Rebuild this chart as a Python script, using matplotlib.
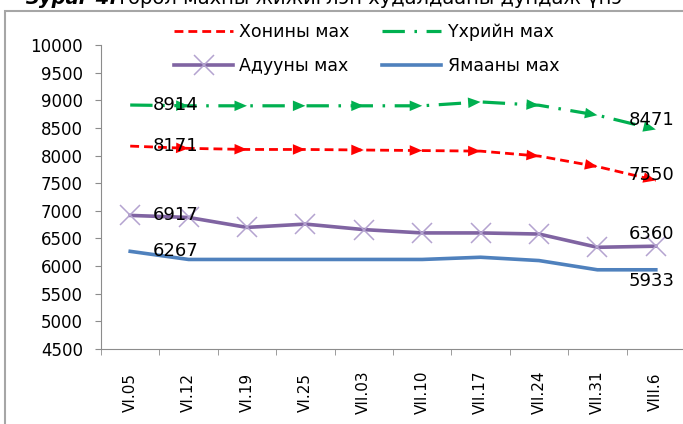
import matplotlib
matplotlib.use("Agg")
import matplotlib.pyplot as plt
from matplotlib.patches import Rectangle

# data
dates = ["VI.05", "VI.12", "VI.19", "VI.25", "VII.03", "VII.10",
         "VII.17", "VII.24", "VII.31", "VIII.6"]
mutton = [8171, 8130, 8110, 8110, 8100, 8090, 8080, 7990, 7800, 7550]
beef = [8914, 8900, 8900, 8900, 8900, 8900, 8970, 8910, 8730, 8471]
horse = [6917, 6880, 6700, 6760, 6660, 6600, 6600, 6580, 6340, 6360]
goat = [6267, 6120, 6120, 6120, 6120, 6120, 6160, 6100, 5933, 5933]
series_names = ["Хонины мах", "Үхрийн мах", "Адууны мах", "Ямааны мах"]
yticks = list(range(4500, 10001, 500))

RED, GREEN, PURPLE, BLUE = "#FF0000", "#00B050", "#8064A2", "#4F81BD"
GRAY = "#8C8C8C"

fig = plt.figure(figsize=(6.83, 4.24), dpi=100)
W, H = 683, 424
ax = fig.add_axes([101 / W, (H - 349) / H, 584 / W, 304 / H])

x = list(range(len(dates)))

ax.plot(x, mutton, color=RED, lw=2.0, dashes=(3.2, 1.8), label=series_names[0])
ax.plot(x, horse, color=PURPLE, lw=2.6, marker="x", ms=14, mew=1.1,
        mec="#B4A3D0", label=series_names[2])
ax.plot(x, beef, color=GREEN, lw=2.3, dashes=(7, 3, 0.8, 3), label=series_names[1])
ax.plot(x, goat, color=BLUE, lw=2.6, label=series_names[3])

# arrowheads at the end of every segment of the red and green lines
for vals, col in ((mutton, RED), (beef, GREEN)):
    for i in range(1, len(vals)):
        back = (i - 0.25, vals[i] - 0.25 * (vals[i] - vals[i - 1]))
        ax.annotate("", xy=(i, vals[i]), xytext=back,
                    arrowprops=dict(arrowstyle="-|>,head_length=0.9,head_width=0.38",
                                    color=col, lw=0, shrinkA=0, shrinkB=0))

ax.set_xlim(-0.5, len(dates) - 0.5)
ax.set_ylim(yticks[0], yticks[-1])
ax.set_yticks(yticks)
ax.set_yticklabels([str(v) for v in yticks], fontsize=12)
ax.set_xticks(x)
ax.set_xticklabels(dates, rotation=90, fontsize=11, va="center")
ax.set_xticks([i - 0.5 for i in range(len(dates) + 1)], minor=True)
ax.tick_params(axis="x", which="major", length=0, pad=31)
ax.tick_params(axis="x", which="minor", length=4, color=GRAY)
ax.tick_params(axis="y", length=4, color=GRAY, pad=9)
for s in ("top", "right"):
    ax.spines[s].set_visible(False)
for s in ("left", "bottom"):
    ax.spines[s].set_color(GRAY)

# data labels at the first and last points
lab = dict(fontsize=13, textcoords="offset points")
for vals in (beef, mutton, horse, goat):
    ax.annotate(str(vals[0]), xy=(0, vals[0]), xytext=(16, 0),
                ha="left", va="center", **lab)
last = len(dates) - 1
ax.annotate(str(beef[-1]), xy=(last, beef[-1]), xytext=(-3, 7), ha="center", va="center", **lab)
ax.annotate(str(mutton[-1]), xy=(last, mutton[-1]), xytext=(-3, 4), ha="center", va="center", **lab)
ax.annotate(str(horse[-1]), xy=(last, horse[-1]), xytext=(-3, 9), ha="center", va="center", **lab)
ax.annotate(str(goat[-1]), xy=(last, goat[-1]), xytext=(-3, -8), ha="center", va="center", **lab)

handles, labels = ax.get_legend_handles_labels()
ax.legend(handles, labels, ncol=2, frameon=False, fontsize=12.5,
          loc="upper left", bbox_to_anchor=(174 / W, (H - 23) / H),
          bbox_transform=fig.transFigure, borderpad=0, borderaxespad=0,
          handlelength=3.4, handletextpad=0.35, columnspacing=1.9,
          labelspacing=0.95)

# outer frame and the cut-off caption above it
fig.patches.append(Rectangle((5 / W, -0.05), 1.2, (H - 11) / H + 0.05,
                             transform=fig.transFigure, fill=False,
                             ec="#A6A6A6", lw=1.5))
fig.text(25 / W, (H - 4) / H, "Зураг 4.", fontsize=14, fontweight="bold",
         fontstyle="italic", va="baseline")
fig.text(116 / W, (H - 4) / H, "Төрөл махны жижиглэн худалдааны дундаж үнэ",
         fontsize=14, va="baseline")

fig.savefig("out.png", dpi=100)
